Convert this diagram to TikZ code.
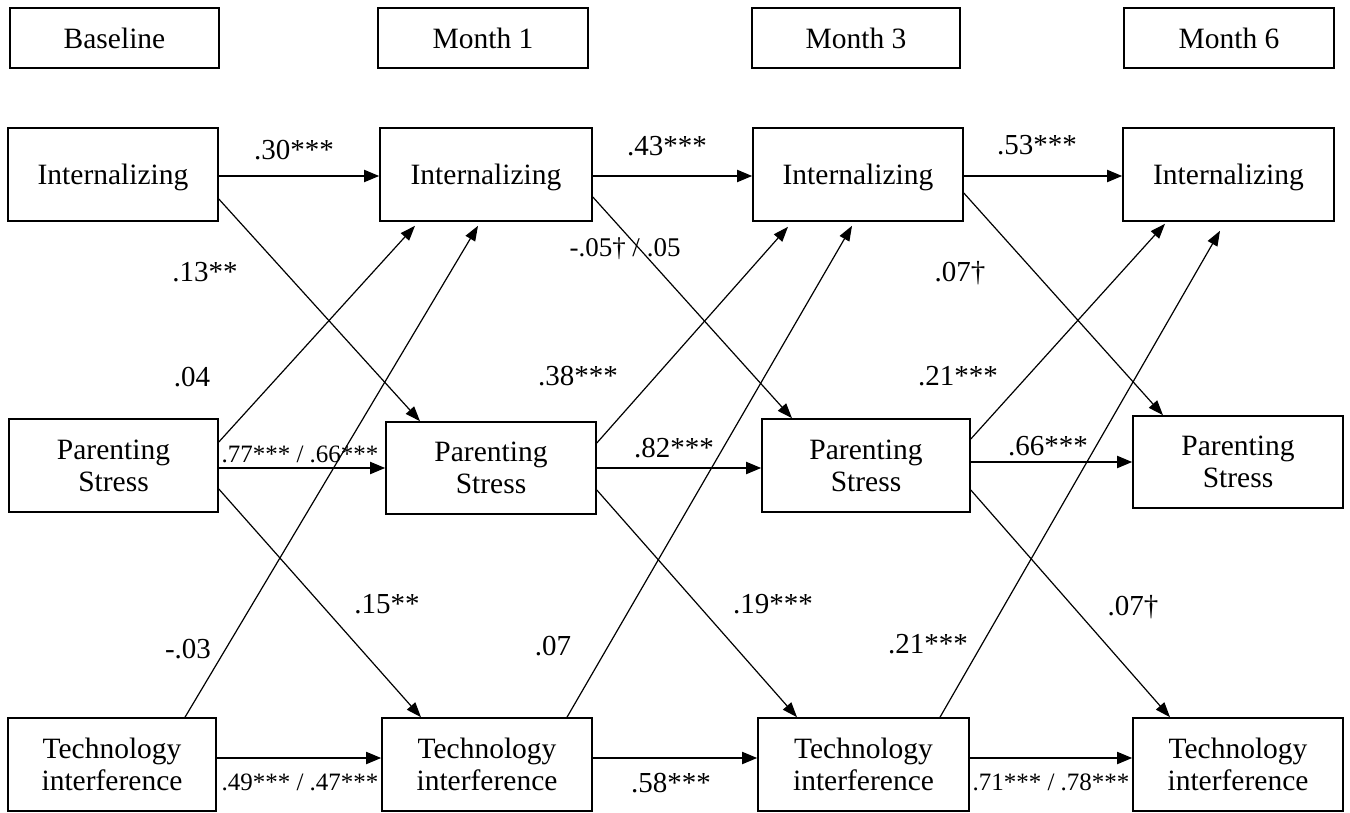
\documentclass[tikz,border=0pt]{standalone}
\usepackage{fontspec}
\setmainfont{Liberation Serif}
\usetikzlibrary{arrows.meta,calc}
\begin{document}
\begin{tikzpicture}[x=1pt,y=-1pt,
 box/.style={draw,line width=1.6pt,minimum width=210pt,minimum height=93pt,inner sep=0pt,align=center,font=\fontsize{29.5}{32}\selectfont},
 onebox/.style={box,text depth=0pt},
 hdr/.style={box,minimum height=60pt},
 lab/.style={anchor=base,inner sep=0pt,font=\fontsize{29}{32}\selectfont},
 slab/.style={lab,font=\fontsize{25}{28}\selectfont},
 mlab/.style={lab,font=\fontsize{27}{30}\selectfont},
 harr/.style={line width=1.8pt,-{Triangle[length=15pt,width=12pt]}},
 darr/.style={line width=1.2pt,-{Triangle[length=15pt,width=11pt]}}]
\useasboundingbox (0,0) rectangle (1350,813);
% headers
\node[hdr,minimum width=209pt] (hB) at (114.5,38) {Baseline};
\node[hdr] (hM1) at (483,38) {Month 1};
\node[hdr,minimum width=208pt] (hM3) at (856,38) {Month 3};
\node[hdr] (hM6) at (1229,38) {Month 6};
% column 1
\node[onebox] (Int1) at (113,174.5) {Internalizing};
\node[box,minimum width=209pt] (PS1) at (113.5,465.5) {Parenting\\Stress};
\node[box,minimum width=208pt] (Tech1) at (112,764.5) {Technology\\interference};
% column 2
\node[onebox,minimum width=212pt] (Int2) at (486,174.5) {Internalizing};
\node[box,minimum height=92pt] (PS2) at (491,468) {Parenting\\Stress};
\node[box] (Tech2) at (487,764.5) {Technology\\interference};
% column 3
\node[onebox] (Int3) at (858,174.5) {Internalizing};
\node[box,minimum width=208pt] (PS3) at (866,465.5) {Parenting\\Stress};
\node[box,minimum width=211pt] (Tech3) at (863.5,764.5) {Technology\\interference};
% column 4
\node[onebox,minimum width=211pt] (Int4) at (1228.5,174.5) {Internalizing};
\node[box,minimum height=92pt] (PS4) at (1238,462) {Parenting\\Stress};
\node[box] (Tech4) at (1238,764.5) {Technology\\interference};
% horizontal arrows
\draw[harr] (Int1.east |- 0,176) -- (Int2.west |- 0,176);
\draw[harr] (Int2.east |- 0,176) -- (Int3.west |- 0,176);
\draw[harr] (Int3.east |- 0,176) -- (Int4.west |- 0,176);
\draw[harr] (PS1.east |- PS2.west) -- (PS2.west);
\draw[harr] (PS2.east) -- (PS2.east -| PS3.west);
\draw[harr] (PS3.east |- PS4.west) -- (PS4.west);
\draw[harr] ($(Tech1.east)+(0,-6.5)$) -- ($(Tech2.west)+(0,-6.5)$);
\draw[harr] ($(Tech2.east)+(0,-6.5)$) -- ($(Tech3.west)+(0,-6.5)$);
\draw[harr] ($(Tech3.east)+(0,-6.5)$) -- ($(Tech4.west)+(0,-6.5)$);
% diagonal arrows, column 1 -> 2
\draw[darr] ($(Int1.east)+(0,24.5)$) -- ($(PS2.north)+(-71,0)$);
\draw[darr] ($(PS1.east)+(0,-23.5)$) -- ($(Int2.south)+(-71,4)$);
\draw[darr] ($(Tech1.north)+(73,0)$) -- ($(Int2.south)+(-8,4)$);
\draw[darr] ($(PS1.east)+(0,23.5)$) -- ($(Tech2.north)+(-66,0)$);
% column 2 -> 3
\draw[darr] ($(Int2.east)+(0,22.5)$) -- ($(PS3.north)+(-74,0)$);
\draw[darr] ($(PS2.east)+(0,-25)$) -- ($(Int3.south)+(-70,5)$);
\draw[darr] ($(Tech2.north)+(80,0)$) -- ($(Int3.south)+(-6,4)$);
\draw[darr] ($(PS2.east)+(0,22)$) -- ($(Tech3.north)+(-66.5,0)$);
% column 3 -> 4
\draw[darr] ($(Int3.east)+(0,18.5)$) -- ($(PS4.north)+(-75,0)$);
\draw[darr] ($(PS3.east)+(0,-26.5)$) -- ($(Int4.south)+(-63.5,2)$);
\draw[darr] ($(Tech3.north)+(76.5,0)$) -- ($(Int4.south)+(-8.5,9)$);
\draw[darr] ($(PS3.east)+(0,24.5)$) -- ($(Tech4.north)+(-68,0)$);
% labels
\node[lab] (l1) at (294,160) {.30***};
\node[lab] (l2) at (667,156) {.43***};
\node[lab] (l3) at (1037,155) {.53***};
\node[lab] (l4) at (205,282) {.13**};
\node[lab] (l5) at (192,386) {.04};
\node[mlab] (l6) at (625,257) {-.05† / .05};
\node[lab] (l7) at (578,385) {.38***};
\node[lab] (l8) at (960,282) {.07†};
\node[lab] (l9) at (958,385) {.21***};
\node[slab] (l10) at (300,462) {.77*** / .66***};
\node[lab] (l11) at (674,457) {.82***};
\node[lab] (l12) at (1048,455) {.66***};
\node[lab] (l13) at (387,613) {.15**};
\node[lab] (l14) at (773,613) {.19***};
\node[lab] (l15) at (1133,615) {.07†};
\node[lab] (l16) at (188,658) {-.03};
\node[lab] (l17) at (553,655) {.07};
\node[lab] (l18) at (928,653) {.21***};
\node[slab] (l19) at (300,790) {.49*** / .47***};
\node[lab] (l20) at (671,792) {.58***};
\node[slab] (l21) at (1051,790) {.71*** / .78***};
\end{tikzpicture}
\end{document}
